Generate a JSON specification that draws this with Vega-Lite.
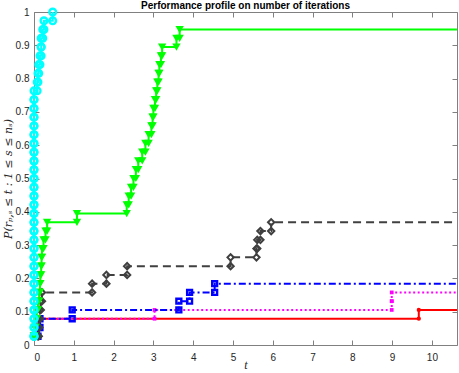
{
  "$schema": "https://vega.github.io/schema/vega-lite/v6.json",
  "autosize": {"type": "none"},
  "width": 423,
  "height": 333,
  "padding": {"left": 34, "top": 12, "right": 2, "bottom": 28},
  "background": "white",
  "title": {"text": "Performance profile on number of iterations", "fontSize": 10, "fontWeight": "bold", "font": "Liberation Sans", "color": "#000000", "offset": 2, "dy": 9, "anchor": "middle"},
  "config": {
    "font": "Liberation Sans",
    "view": {"stroke": "#808080", "strokeWidth": 1},
    "axis": {"grid": false, "domain": false, "tickColor": "#808080", "tickSize": -5, "labelColor": "#262626", "labelFontSize": 10, "labelPadding": 10, "titleColor": "#262626"}
  },
  "data": {"values": [
    {"s":"r","k":1,"t":0,"p":0.0263,"q":0.0263},
    {"s":"r","k":2,"t":0.02,"p":0.0526,"q":0.0263},
    {"s":"r","k":3,"t":0.05,"p":0.0789,"q":0.0526},
    {"s":"r","k":4,"t":9.67,"p":0.1053,"q":0.0789},
    {"s":"r","k":5,"t":10.63,"p":0.1053,"q":0.1053},
    {"s":"m","k":1,"t":0,"p":0.0263,"q":0.0263},
    {"s":"m","k":2,"t":0.03,"p":0.0526,"q":0.0263},
    {"s":"m","k":3,"t":0.06,"p":0.0789,"q":0.0526},
    {"s":"m","k":4,"t":3.03,"p":0.1053,"q":0.0789},
    {"s":"m","k":5,"t":8.99,"p":0.1316,"q":0.1053},
    {"s":"m","k":6,"t":8.99,"p":0.1579,"q":0.1316},
    {"s":"m","k":7,"t":10.63,"p":0.1579,"q":0.1579},
    {"s":"b","k":1,"t":0.06,"p":0.0263,"q":0.0263},
    {"s":"b","k":2,"t":0.1,"p":0.0526,"q":0.0263},
    {"s":"b","k":3,"t":0.15,"p":0.0789,"q":0.0526},
    {"s":"b","k":4,"t":0.96,"p":0.1053,"q":0.0789},
    {"s":"b","k":5,"t":3.64,"p":0.1316,"q":0.1053},
    {"s":"b","k":6,"t":3.91,"p":0.1579,"q":0.1316},
    {"s":"b","k":7,"t":4.54,"p":0.1842,"q":0.1579},
    {"s":"b","k":8,"t":10.63,"p":0.1842,"q":0.1842},
    {"s":"g","k":1,"t":0.1,"p":0.0263,"q":0.0263},
    {"s":"g","k":2,"t":0.12,"p":0.0526,"q":0.0263},
    {"s":"g","k":3,"t":0.13,"p":0.0789,"q":0.0526},
    {"s":"g","k":4,"t":0.15,"p":0.1053,"q":0.0789},
    {"s":"g","k":5,"t":0.17,"p":0.1316,"q":0.1053},
    {"s":"g","k":6,"t":0.2,"p":0.1579,"q":0.1316},
    {"s":"g","k":7,"t":1.46,"p":0.1842,"q":0.1579},
    {"s":"g","k":8,"t":1.82,"p":0.2105,"q":0.1842},
    {"s":"g","k":9,"t":2.34,"p":0.2368,"q":0.2105},
    {"s":"g","k":10,"t":4.94,"p":0.2632,"q":0.2368},
    {"s":"g","k":11,"t":5.59,"p":0.2895,"q":0.2632},
    {"s":"g","k":12,"t":5.61,"p":0.3158,"q":0.2895},
    {"s":"g","k":13,"t":5.69,"p":0.3421,"q":0.3158},
    {"s":"g","k":14,"t":5.96,"p":0.3684,"q":0.3421},
    {"s":"g","k":15,"t":10.63,"p":0.3684,"q":0.3684},
    {"s":"v","k":1,"t":0,"p":0.0263,"q":0.0263},
    {"s":"v","k":2,"t":0.01,"p":0.0526,"q":0.0263},
    {"s":"v","k":3,"t":0.04,"p":0.0789,"q":0.0526},
    {"s":"v","k":4,"t":0.07,"p":0.1053,"q":0.0789},
    {"s":"v","k":5,"t":0.1,"p":0.1316,"q":0.1053},
    {"s":"v","k":6,"t":0.13,"p":0.1579,"q":0.1316},
    {"s":"v","k":7,"t":0.15,"p":0.1842,"q":0.1579},
    {"s":"v","k":8,"t":0.16,"p":0.2105,"q":0.1842},
    {"s":"v","k":9,"t":0.18,"p":0.2368,"q":0.2105},
    {"s":"v","k":10,"t":0.19,"p":0.2632,"q":0.2368},
    {"s":"v","k":11,"t":0.2,"p":0.2895,"q":0.2632},
    {"s":"v","k":12,"t":0.24,"p":0.3158,"q":0.2895},
    {"s":"v","k":13,"t":0.29,"p":0.3421,"q":0.3158},
    {"s":"v","k":14,"t":0.33,"p":0.3684,"q":0.3421},
    {"s":"v","k":15,"t":1.08,"p":0.3947,"q":0.3684},
    {"s":"v","k":16,"t":2.33,"p":0.4211,"q":0.3947},
    {"s":"v","k":17,"t":2.38,"p":0.4474,"q":0.4211},
    {"s":"v","k":18,"t":2.44,"p":0.4737,"q":0.4474},
    {"s":"v","k":19,"t":2.5,"p":0.5,"q":0.4737},
    {"s":"v","k":20,"t":2.56,"p":0.5263,"q":0.5},
    {"s":"v","k":21,"t":2.62,"p":0.5526,"q":0.5263},
    {"s":"v","k":22,"t":2.72,"p":0.5789,"q":0.5526},
    {"s":"v","k":23,"t":2.8,"p":0.6053,"q":0.5789},
    {"s":"v","k":24,"t":2.88,"p":0.6316,"q":0.6053},
    {"s":"v","k":25,"t":2.95,"p":0.6579,"q":0.6316},
    {"s":"v","k":26,"t":2.98,"p":0.6842,"q":0.6579},
    {"s":"v","k":27,"t":3.0,"p":0.7105,"q":0.6842},
    {"s":"v","k":28,"t":3.04,"p":0.7368,"q":0.7105},
    {"s":"v","k":29,"t":3.07,"p":0.7632,"q":0.7368},
    {"s":"v","k":30,"t":3.1,"p":0.7895,"q":0.7632},
    {"s":"v","k":31,"t":3.13,"p":0.8158,"q":0.7895},
    {"s":"v","k":32,"t":3.15,"p":0.8421,"q":0.8158},
    {"s":"v","k":33,"t":3.19,"p":0.8684,"q":0.8421},
    {"s":"v","k":34,"t":3.22,"p":0.8947,"q":0.8684},
    {"s":"v","k":35,"t":3.58,"p":0.9211,"q":0.8947},
    {"s":"v","k":36,"t":3.66,"p":0.9474,"q":0.9211},
    {"s":"v","k":37,"t":10.63,"p":0.9474,"q":0.9474},
    {"s":"c","k":1,"t":0,"p":0.0263,"q":0.0263},
    {"s":"c","k":2,"t":0,"p":0.0526,"q":0.0263},
    {"s":"c","k":3,"t":0,"p":0.0789,"q":0.0526},
    {"s":"c","k":4,"t":0,"p":0.1053,"q":0.0789},
    {"s":"c","k":5,"t":0,"p":0.1316,"q":0.1053},
    {"s":"c","k":6,"t":0,"p":0.1579,"q":0.1316},
    {"s":"c","k":7,"t":0,"p":0.1842,"q":0.1579},
    {"s":"c","k":8,"t":0,"p":0.2105,"q":0.1842},
    {"s":"c","k":9,"t":0,"p":0.2368,"q":0.2105},
    {"s":"c","k":10,"t":0,"p":0.2632,"q":0.2368},
    {"s":"c","k":11,"t":0,"p":0.2895,"q":0.2632},
    {"s":"c","k":12,"t":0,"p":0.3158,"q":0.2895},
    {"s":"c","k":13,"t":0,"p":0.3421,"q":0.3158},
    {"s":"c","k":14,"t":0,"p":0.3684,"q":0.3421},
    {"s":"c","k":15,"t":0,"p":0.3947,"q":0.3684},
    {"s":"c","k":16,"t":0,"p":0.4211,"q":0.3947},
    {"s":"c","k":17,"t":0,"p":0.4474,"q":0.4211},
    {"s":"c","k":18,"t":0,"p":0.4737,"q":0.4474},
    {"s":"c","k":19,"t":0,"p":0.5,"q":0.4737},
    {"s":"c","k":20,"t":0,"p":0.5263,"q":0.5},
    {"s":"c","k":21,"t":0,"p":0.5526,"q":0.5263},
    {"s":"c","k":22,"t":0,"p":0.5789,"q":0.5526},
    {"s":"c","k":23,"t":0,"p":0.6053,"q":0.5789},
    {"s":"c","k":24,"t":0,"p":0.6316,"q":0.6053},
    {"s":"c","k":25,"t":0,"p":0.6579,"q":0.6316},
    {"s":"c","k":26,"t":0,"p":0.6842,"q":0.6579},
    {"s":"c","k":27,"t":0,"p":0.7105,"q":0.6842},
    {"s":"c","k":28,"t":0,"p":0.7368,"q":0.7105},
    {"s":"c","k":29,"t":0,"p":0.7632,"q":0.7368},
    {"s":"c","k":30,"t":0.08,"p":0.7895,"q":0.7632},
    {"s":"c","k":31,"t":0.1,"p":0.8158,"q":0.7895},
    {"s":"c","k":32,"t":0.12,"p":0.8421,"q":0.8158},
    {"s":"c","k":33,"t":0.15,"p":0.8684,"q":0.8421},
    {"s":"c","k":34,"t":0.18,"p":0.8947,"q":0.8684},
    {"s":"c","k":35,"t":0.18,"p":0.9211,"q":0.8947},
    {"s":"c","k":36,"t":0.22,"p":0.9474,"q":0.9211},
    {"s":"c","k":37,"t":0.25,"p":0.9737,"q":0.9474},
    {"s":"c","k":38,"t":0.47,"p":1.0,"q":0.9737}
  ]},
  "resolve": {"axis": {"x": "independent", "y": "independent"}},
  "layer": [
    {
      "transform": [{"filter": "datum.s == 'r'"}],
      "mark": {"type": "line", "interpolate": "step-after", "color": "#ff0000", "strokeWidth": 2},
      "encoding": {
        "x": {"field": "t", "type": "quantitative", "scale": {"domain": [0, 10.63], "nice": false, "zero": false},
              "axis": {"orient": "bottom", "values": [0,1,2,3,4,5,6,7,8,9,10], "labelPadding": 12, "title": "t", "titleFont": "Liberation Serif", "titleFontStyle": "italic", "titleFontWeight": "normal", "titleFontSize": 12, "titlePadding": -3}},
        "y": {"field": "p", "type": "quantitative", "scale": {"domain": [0, 1], "nice": false},
              "axis": {"orient": "left", "values": [0,0.1,0.2,0.3,0.4,0.5,0.6,0.7,0.8,0.9,1], "format": ".1~f", "title": "P(rₚ,ₛ ≤ t : 1 ≤ s ≤ nₛ)", "titleFont": "DejaVu Serif", "titleFontStyle": "italic", "titleFontWeight": "normal", "titleFontSize": 11, "titlePadding": 2}},
        "order": {"field": "k"}
      }
    },
    {
      "transform": [{"filter": "datum.s == 'r' && datum.t < 10.6"}, {"fold": ["p", "q"], "as": ["w", "v"]}],
      "mark": {"type": "point", "shape": "circle", "filled": true, "color": "#ff0000", "size": 18, "opacity": 1},
      "encoding": {
        "x": {"field": "t", "type": "quantitative", "axis": {"orient": "top", "values": [0,1,2,3,4,5,6,7,8,9,10], "labels": false, "labelPadding": 0, "maxExtent": 0, "minExtent": 0, "title": null}},
        "y": {"field": "v", "type": "quantitative", "axis": {"orient": "right", "values": [0,0.1,0.2,0.3,0.4,0.5,0.6,0.7,0.8,0.9,1], "labels": false, "labelPadding": 0, "maxExtent": 0, "minExtent": 0, "title": null}}
      }
    },
    {
      "transform": [{"filter": "datum.s == 'm'"}],
      "mark": {"type": "line", "interpolate": "step-after", "color": "#ff00ff", "strokeWidth": 2, "strokeDash": [2, 2.5]},
      "encoding": {
        "x": {"field": "t", "type": "quantitative", "axis": null},
        "y": {"field": "p", "type": "quantitative", "axis": null},
        "order": {"field": "k"}
      }
    },
    {
      "transform": [{"filter": "datum.s == 'm' && datum.t < 10.6"}, {"fold": ["p", "q"], "as": ["w", "v"]}],
      "mark": {"type": "point", "shape": "square", "filled": true, "color": "#ff00ff", "size": 14, "opacity": 1},
      "encoding": {
        "x": {"field": "t", "type": "quantitative", "axis": null},
        "y": {"field": "v", "type": "quantitative", "axis": null}
      }
    },
    {
      "transform": [{"filter": "datum.s == 'b'"}],
      "mark": {"type": "line", "interpolate": "step-after", "color": "#0000ff", "strokeWidth": 2, "strokeDash": [7, 3, 2, 3]},
      "encoding": {
        "x": {"field": "t", "type": "quantitative", "axis": null},
        "y": {"field": "p", "type": "quantitative", "axis": null},
        "order": {"field": "k"}
      }
    },
    {
      "transform": [{"filter": "datum.s == 'b' && datum.t < 10.6"}, {"fold": ["p", "q"], "as": ["w", "v"]}],
      "mark": {"type": "point", "shape": "square", "filled": false, "color": "#0000ff", "strokeWidth": 2.4, "size": 24, "opacity": 1},
      "encoding": {
        "x": {"field": "t", "type": "quantitative", "axis": null},
        "y": {"field": "v", "type": "quantitative", "axis": null}
      }
    },
    {
      "transform": [{"filter": "datum.s == 'g'"}],
      "mark": {"type": "line", "interpolate": "step-after", "color": "#404040", "strokeWidth": 2, "strokeDash": [8, 5]},
      "encoding": {
        "x": {"field": "t", "type": "quantitative", "axis": null},
        "y": {"field": "p", "type": "quantitative", "axis": null},
        "order": {"field": "k"}
      }
    },
    {
      "transform": [{"filter": "datum.s == 'g' && datum.t < 10.6"}, {"fold": ["p", "q"], "as": ["w", "v"]}],
      "mark": {"type": "point", "shape": "diamond", "filled": false, "color": "#404040", "strokeWidth": 2, "size": 40, "opacity": 1},
      "encoding": {
        "x": {"field": "t", "type": "quantitative", "axis": null},
        "y": {"field": "v", "type": "quantitative", "axis": null}
      }
    },
    {
      "transform": [{"filter": "datum.s == 'v'"}],
      "mark": {"type": "line", "interpolate": "step-after", "color": "#00ff00", "strokeWidth": 2},
      "encoding": {
        "x": {"field": "t", "type": "quantitative", "axis": null},
        "y": {"field": "p", "type": "quantitative", "axis": null},
        "order": {"field": "k"}
      }
    },
    {
      "transform": [{"filter": "datum.s == 'v' && datum.t < 10.6"}, {"fold": ["p", "q"], "as": ["w", "v"]}],
      "mark": {"type": "point", "shape": "triangle-down", "filled": true, "color": "#00ff00", "size": 70, "opacity": 1},
      "encoding": {
        "x": {"field": "t", "type": "quantitative", "axis": null},
        "y": {"field": "v", "type": "quantitative", "axis": null}
      }
    },
    {
      "transform": [{"filter": "datum.s == 'c'"}],
      "mark": {"type": "line", "interpolate": "step-after", "color": "#00ffff", "strokeWidth": 2},
      "encoding": {
        "x": {"field": "t", "type": "quantitative", "axis": null},
        "y": {"field": "p", "type": "quantitative", "axis": null},
        "order": {"field": "k"}
      }
    },
    {
      "transform": [{"filter": "datum.s == 'c' && datum.t < 10.6"}, {"fold": ["p", "q"], "as": ["w", "v"]}],
      "mark": {"type": "point", "shape": "circle", "filled": false, "color": "#00ffff", "strokeWidth": 2.4, "size": 44, "opacity": 1},
      "encoding": {
        "x": {"field": "t", "type": "quantitative", "axis": null},
        "y": {"field": "v", "type": "quantitative", "axis": null}
      }
    }
  ]
}
